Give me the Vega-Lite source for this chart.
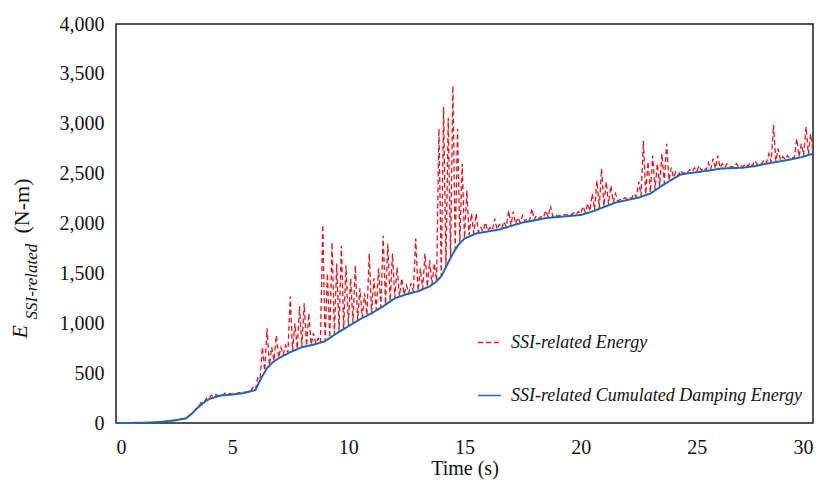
{
"$schema": "https://vega.github.io/schema/vega-lite/v6.json",
"width": 697, "height": 399,
"autosize": "none",
"padding": {"left": 116, "top": 24, "right": 13, "bottom": 63},
"background": "white",
"config": {
  "font": "Liberation Serif",
  "view": {"stroke": "#1a1a1a", "strokeWidth": 1.5},
  "axis": {"grid": false, "ticks": false, "domain": false, "labelFont": "Liberation Serif", "titleFont": "Liberation Serif", "labelColor": "#111", "titleColor": "#111", "labelFontSize": 20, "titleFontSize": 20, "titleFontWeight": "normal"}
},
"data": {"values": [
{"s":"r","t":0,"v":0},{"s":"r","t":0.5,"v":0},{"s":"r","t":1,"v":2},{"s":"r","t":1.5,"v":5},{"s":"r","t":2,"v":15},{"s":"r","t":2.5,"v":28},{"s":"r","t":3,"v":48},{"s":"r","t":3.3,"v":100},{"s":"r","t":3.5,"v":160},
{"s":"r","t":3.6,"v":180},{"s":"r","t":3.7,"v":220},{"s":"r","t":3.8,"v":215},{"s":"r","t":3.9,"v":250},{"s":"r","t":4.0,"v":245},{"s":"r","t":4.1,"v":280},{"s":"r","t":4.2,"v":262},{"s":"r","t":4.3,"v":285},{"s":"r","t":4.4,"v":274},{"s":"r","t":4.5,"v":292},{"s":"r","t":4.6,"v":280},{"s":"r","t":4.7,"v":300},{"s":"r","t":4.8,"v":285},{"s":"r","t":4.9,"v":296},
{"s":"r","t":5.0,"v":290},{"s":"r","t":5.1,"v":300},{"s":"r","t":5.2,"v":295},{"s":"r","t":5.3,"v":306},{"s":"r","t":5.4,"v":300},{"s":"r","t":5.5,"v":310},{"s":"r","t":5.6,"v":308},{"s":"r","t":5.7,"v":320},{"s":"r","t":5.8,"v":318},{"s":"r","t":5.9,"v":360},
{"s":"r","t":6.0,"v":335},{"s":"r","t":6.1,"v":450},{"s":"r","t":6.2,"v":435},{"s":"r","t":6.3,"v":760},{"s":"r","t":6.4,"v":525},{"s":"r","t":6.5,"v":950},{"s":"r","t":6.6,"v":580},{"s":"r","t":6.7,"v":760},{"s":"r","t":6.8,"v":625},{"s":"r","t":6.9,"v":880},
{"s":"r","t":7.0,"v":655},{"s":"r","t":7.1,"v":760},{"s":"r","t":7.2,"v":685},{"s":"r","t":7.3,"v":780},{"s":"r","t":7.4,"v":705},{"s":"r","t":7.5,"v":1270},{"s":"r","t":7.6,"v":725},{"s":"r","t":7.7,"v":1000},{"s":"r","t":7.8,"v":745},{"s":"r","t":7.9,"v":1170},
{"s":"r","t":8.0,"v":765},{"s":"r","t":8.1,"v":1200},{"s":"r","t":8.2,"v":775},{"s":"r","t":8.3,"v":1100},{"s":"r","t":8.4,"v":785},{"s":"r","t":8.5,"v":900},{"s":"r","t":8.6,"v":795},{"s":"r","t":8.7,"v":850},{"s":"r","t":8.8,"v":805},{"s":"r","t":8.9,"v":1990},
{"s":"r","t":9.0,"v":825},{"s":"r","t":9.1,"v":1500},{"s":"r","t":9.2,"v":855},{"s":"r","t":9.3,"v":1810},{"s":"r","t":9.4,"v":890},{"s":"r","t":9.5,"v":1600},{"s":"r","t":9.6,"v":920},{"s":"r","t":9.7,"v":1780},{"s":"r","t":9.8,"v":950},{"s":"r","t":9.9,"v":1580},
{"s":"r","t":10.0,"v":975},{"s":"r","t":10.1,"v":1450},{"s":"r","t":10.2,"v":1005},{"s":"r","t":10.3,"v":1580},{"s":"r","t":10.4,"v":1033},{"s":"r","t":10.5,"v":1350},{"s":"r","t":10.6,"v":1057},{"s":"r","t":10.7,"v":1300},{"s":"r","t":10.8,"v":1081},{"s":"r","t":10.9,"v":1700},
{"s":"r","t":11.0,"v":1105},{"s":"r","t":11.1,"v":1450},{"s":"r","t":11.2,"v":1135},{"s":"r","t":11.3,"v":1550},{"s":"r","t":11.4,"v":1163},{"s":"r","t":11.5,"v":1880},{"s":"r","t":11.6,"v":1190},{"s":"r","t":11.7,"v":1800},{"s":"r","t":11.8,"v":1225},{"s":"r","t":11.9,"v":1700},
{"s":"r","t":12.0,"v":1255},{"s":"r","t":12.1,"v":1560},{"s":"r","t":12.2,"v":1271},{"s":"r","t":12.3,"v":1450},{"s":"r","t":12.4,"v":1287},{"s":"r","t":12.5,"v":1380},{"s":"r","t":12.6,"v":1301},{"s":"r","t":12.7,"v":1400},{"s":"r","t":12.8,"v":1313},{"s":"r","t":12.9,"v":1850},
{"s":"r","t":13.0,"v":1325},{"s":"r","t":13.1,"v":1550},{"s":"r","t":13.2,"v":1345},{"s":"r","t":13.3,"v":1700},{"s":"r","t":13.4,"v":1365},{"s":"r","t":13.5,"v":1630},{"s":"r","t":13.6,"v":1390},{"s":"r","t":13.7,"v":1600},{"s":"r","t":13.8,"v":1425},{"s":"r","t":13.9,"v":2950},
{"s":"r","t":14.0,"v":1475},{"s":"r","t":14.1,"v":3170},{"s":"r","t":14.2,"v":1565},{"s":"r","t":14.3,"v":3060},{"s":"r","t":14.4,"v":1665},{"s":"r","t":14.5,"v":3380},{"s":"r","t":14.6,"v":1745},{"s":"r","t":14.7,"v":2950},{"s":"r","t":14.8,"v":1810},{"s":"r","t":14.9,"v":2600},
{"s":"r","t":15.0,"v":1855},{"s":"r","t":15.1,"v":2330},{"s":"r","t":15.2,"v":1883},{"s":"r","t":15.3,"v":2100},{"s":"r","t":15.4,"v":1900},{"s":"r","t":15.5,"v":2100},{"s":"r","t":15.6,"v":1910},{"s":"r","t":15.7,"v":1960},{"s":"r","t":15.8,"v":1919},{"s":"r","t":15.9,"v":2010},
{"s":"r","t":16.0,"v":1925},{"s":"r","t":16.1,"v":1960},{"s":"r","t":16.2,"v":1933},{"s":"r","t":16.3,"v":2050},{"s":"r","t":16.4,"v":1941},{"s":"r","t":16.5,"v":1990},{"s":"r","t":16.6,"v":1952},{"s":"r","t":16.7,"v":2020},{"s":"r","t":16.8,"v":1966},{"s":"r","t":16.9,"v":2130},
{"s":"r","t":17.0,"v":1980},{"s":"r","t":17.1,"v":2120},{"s":"r","t":17.2,"v":1994},{"s":"r","t":17.3,"v":2060},{"s":"r","t":17.4,"v":2008},{"s":"r","t":17.5,"v":2080},{"s":"r","t":17.6,"v":2020},{"s":"r","t":17.7,"v":2050},{"s":"r","t":17.8,"v":2028},{"s":"r","t":17.9,"v":2150},
{"s":"r","t":18.0,"v":2040},{"s":"r","t":18.1,"v":2080},{"s":"r","t":18.2,"v":2050},{"s":"r","t":18.3,"v":2070},{"s":"r","t":18.4,"v":2060},{"s":"r","t":18.5,"v":2130},{"s":"r","t":18.6,"v":2065},{"s":"r","t":18.7,"v":2180},{"s":"r","t":18.8,"v":2070},{"s":"r","t":18.9,"v":2090},
{"s":"r","t":19.0,"v":2075},{"s":"r","t":19.1,"v":2080},{"s":"r","t":19.2,"v":2079},{"s":"r","t":19.3,"v":2090},{"s":"r","t":19.4,"v":2083},{"s":"r","t":19.5,"v":2100},{"s":"r","t":19.6,"v":2087},{"s":"r","t":19.7,"v":2110},{"s":"r","t":19.8,"v":2091},{"s":"r","t":19.9,"v":2120},
{"s":"r","t":20.0,"v":2095},{"s":"r","t":20.1,"v":2170},{"s":"r","t":20.2,"v":2109},{"s":"r","t":20.3,"v":2200},{"s":"r","t":20.4,"v":2123},{"s":"r","t":20.5,"v":2300},{"s":"r","t":20.6,"v":2139},{"s":"r","t":20.7,"v":2430},{"s":"r","t":20.8,"v":2157},{"s":"r","t":20.9,"v":2550},
{"s":"r","t":21.0,"v":2175},{"s":"r","t":21.1,"v":2420},{"s":"r","t":21.2,"v":2193},{"s":"r","t":21.3,"v":2380},{"s":"r","t":21.4,"v":2211},{"s":"r","t":21.5,"v":2300},{"s":"r","t":21.6,"v":2225},{"s":"r","t":21.7,"v":2240},{"s":"r","t":21.8,"v":2235},{"s":"r","t":21.9,"v":2260},
{"s":"r","t":22.0,"v":2245},{"s":"r","t":22.1,"v":2260},{"s":"r","t":22.2,"v":2255},{"s":"r","t":22.3,"v":2300},{"s":"r","t":22.4,"v":2265},{"s":"r","t":22.5,"v":2420},{"s":"r","t":22.6,"v":2278},{"s":"r","t":22.7,"v":2830},{"s":"r","t":22.8,"v":2294},{"s":"r","t":22.9,"v":2620},
{"s":"r","t":23.0,"v":2310},{"s":"r","t":23.1,"v":2680},{"s":"r","t":23.2,"v":2342},{"s":"r","t":23.3,"v":2600},{"s":"r","t":23.4,"v":2374},{"s":"r","t":23.5,"v":2700},{"s":"r","t":23.6,"v":2404},{"s":"r","t":23.7,"v":2800},{"s":"r","t":23.8,"v":2432},{"s":"r","t":23.9,"v":2560},
{"s":"r","t":24.0,"v":2460},{"s":"r","t":24.1,"v":2520},{"s":"r","t":24.2,"v":2480},{"s":"r","t":24.3,"v":2530},{"s":"r","t":24.4,"v":2500},{"s":"r","t":24.5,"v":2520},{"s":"r","t":24.6,"v":2513},{"s":"r","t":24.7,"v":2540},{"s":"r","t":24.8,"v":2519},{"s":"r","t":24.9,"v":2560},
{"s":"r","t":25.0,"v":2525},{"s":"r","t":25.1,"v":2580},{"s":"r","t":25.2,"v":2531},{"s":"r","t":25.3,"v":2560},{"s":"r","t":25.4,"v":2537},{"s":"r","t":25.5,"v":2610},{"s":"r","t":25.6,"v":2544},{"s":"r","t":25.7,"v":2650},{"s":"r","t":25.8,"v":2552},{"s":"r","t":25.9,"v":2680},
{"s":"r","t":26.0,"v":2560},{"s":"r","t":26.1,"v":2600},{"s":"r","t":26.2,"v":2562},{"s":"r","t":26.3,"v":2600},{"s":"r","t":26.4,"v":2564},{"s":"r","t":26.5,"v":2570},{"s":"r","t":26.6,"v":2566},{"s":"r","t":26.7,"v":2600},{"s":"r","t":26.8,"v":2568},{"s":"r","t":26.9,"v":2580},
{"s":"r","t":27.0,"v":2570},{"s":"r","t":27.1,"v":2600},{"s":"r","t":27.2,"v":2575},{"s":"r","t":27.3,"v":2610},{"s":"r","t":27.4,"v":2581},{"s":"r","t":27.5,"v":2630},{"s":"r","t":27.6,"v":2590},{"s":"r","t":27.7,"v":2610},{"s":"r","t":27.8,"v":2600},{"s":"r","t":27.9,"v":2640},
{"s":"r","t":28.0,"v":2610},{"s":"r","t":28.1,"v":2700},{"s":"r","t":28.2,"v":2618},{"s":"r","t":28.3,"v":2990},{"s":"r","t":28.4,"v":2626},{"s":"r","t":28.5,"v":2750},{"s":"r","t":28.6,"v":2634},{"s":"r","t":28.7,"v":2670},{"s":"r","t":28.8,"v":2642},{"s":"r","t":28.9,"v":2680},
{"s":"r","t":29.0,"v":2650},{"s":"r","t":29.1,"v":2660},{"s":"r","t":29.2,"v":2660},{"s":"r","t":29.3,"v":2850},{"s":"r","t":29.4,"v":2670},{"s":"r","t":29.5,"v":2800},{"s":"r","t":29.6,"v":2685},{"s":"r","t":29.7,"v":2970},{"s":"r","t":29.8,"v":2695},{"s":"r","t":29.9,"v":2900},{"s":"r","t":30.0,"v":2710},
{"s":"b","t":0,"v":0},{"s":"b","t":0.5,"v":0},{"s":"b","t":1,"v":2},{"s":"b","t":1.5,"v":5},{"s":"b","t":2,"v":12},{"s":"b","t":2.5,"v":25},{"s":"b","t":3,"v":45},{"s":"b","t":3.25,"v":90},{"s":"b","t":3.5,"v":150},{"s":"b","t":3.75,"v":200},
{"s":"b","t":4,"v":240},{"s":"b","t":4.5,"v":275},{"s":"b","t":5,"v":285},{"s":"b","t":5.5,"v":300},{"s":"b","t":6,"v":330},{"s":"b","t":6.25,"v":450},{"s":"b","t":6.5,"v":550},{"s":"b","t":6.75,"v":610},{"s":"b","t":7,"v":650},{"s":"b","t":7.5,"v":710},
{"s":"b","t":8,"v":760},{"s":"b","t":8.5,"v":785},{"s":"b","t":9,"v":820},{"s":"b","t":9.5,"v":900},{"s":"b","t":10,"v":970},{"s":"b","t":10.5,"v":1040},{"s":"b","t":11,"v":1100},{"s":"b","t":11.5,"v":1170},{"s":"b","t":12,"v":1250},{"s":"b","t":12.5,"v":1290},
{"s":"b","t":13,"v":1320},{"s":"b","t":13.5,"v":1370},{"s":"b","t":13.75,"v":1410},{"s":"b","t":14,"v":1470},{"s":"b","t":14.25,"v":1585},{"s":"b","t":14.5,"v":1700},{"s":"b","t":14.75,"v":1790},{"s":"b","t":15,"v":1850},{"s":"b","t":15.5,"v":1900},{"s":"b","t":16,"v":1920},
{"s":"b","t":16.5,"v":1940},{"s":"b","t":17,"v":1975},{"s":"b","t":17.5,"v":2010},{"s":"b","t":18,"v":2030},{"s":"b","t":18.5,"v":2055},{"s":"b","t":19,"v":2065},{"s":"b","t":19.5,"v":2075},{"s":"b","t":20,"v":2085},{"s":"b","t":20.5,"v":2120},{"s":"b","t":21,"v":2165},
{"s":"b","t":21.5,"v":2210},{"s":"b","t":22,"v":2235},{"s":"b","t":22.5,"v":2260},{"s":"b","t":23,"v":2300},{"s":"b","t":23.5,"v":2380},{"s":"b","t":24,"v":2450},{"s":"b","t":24.3,"v":2490},{"s":"b","t":24.5,"v":2500},{"s":"b","t":25,"v":2515},{"s":"b","t":25.5,"v":2530},
{"s":"b","t":26,"v":2550},{"s":"b","t":26.5,"v":2555},{"s":"b","t":27,"v":2560},{"s":"b","t":27.5,"v":2575},{"s":"b","t":28,"v":2600},{"s":"b","t":28.5,"v":2620},{"s":"b","t":29,"v":2640},{"s":"b","t":29.5,"v":2665},{"s":"b","t":30,"v":2700}
]},
"encoding": {
  "x": {"field": "t", "type": "quantitative", "scale": {"domain": [0, 30], "nice": false}, "axis": {"values": [0,5,10,15,20,25,30], "labelFont": "Liberation Serif", "labelFontSize": 20, "labelPadding": 14, "title": "Time (s)", "titleFont": "Liberation Serif", "titleFontSize": 20, "titlePadding": 1}}
},
"layer": [
  {
    "layer": [
      {"transform": [{"filter": "datum.s == 'r'"}],
       "mark": {"type": "line", "strokeWidth": 1.3},
       "encoding": {
         "y": {"field": "v", "type": "quantitative", "scale": {"domain": [0, 4000], "nice": false},
               "axis": {"values": [0,500,1000,1500,2000,2500,3000,3500,4000], "labelExpr": "format(datum.value, ',.0f')", "labelFont": "Liberation Serif", "labelFontSize": 20, "labelPadding": 12,
                        "title": "E", "titleFont": "Liberation Serif", "titleFontStyle": "italic", "titleFontSize": 22, "titleAngle": 270, "titleAlign": "left", "titleBaseline": "alphabetic", "titleX": -90, "titleY": 314}},
         "color": {"field": "s", "type": "nominal", "scale": {"domain": ["r", "b"], "range": ["#e8141c", "#2266ad"]},
                   "legend": {"title": null, "orient": "none", "legendX": 361, "legendY": 306, "symbolType": "stroke", "symbolSize": 520, "symbolStrokeWidth": 1.6, "labelFont": "Liberation Serif", "labelFontStyle": "italic", "labelFontSize": 18, "labelColor": "#111", "labelOffset": 9, "rowPadding": 31, "padding": 0, "labelLimit": 400,
                              "labelExpr": "datum.value == 'r' ? 'SSI-related Energy' : 'SSI-related Cumulated Damping Energy'"}},
         "strokeDash": {"field": "s", "type": "nominal", "scale": {"domain": ["r", "b"], "range": [[5, 3], [1, 0]]}, "legend": null}
       }},
      {"transform": [{"filter": "datum.s == 'b'"}],
       "mark": {"type": "line", "strokeWidth": 2},
       "encoding": {
         "y": {"field": "v", "type": "quantitative"},
         "color": {"field": "s", "type": "nominal"},
         "strokeDash": {"field": "s", "type": "nominal"}
       }}
    ]
  },
  {"transform": [{"filter": "datum.s == 'b'"}],
   "mark": {"type": "line", "opacity": 0},
   "encoding": {"y": {"field": "v", "type": "quantitative", "scale": {"domain": [0, 4000], "nice": false},
     "axis": {"orient": "left", "labels": false, "title": "SSI-related", "titleFont": "Liberation Serif", "titleFontStyle": "italic", "titleFontSize": 17, "titleAngle": 270, "titleAlign": "left", "titleBaseline": "alphabetic", "titleX": -80, "titleY": 295}}}},
  {"transform": [{"filter": "datum.s == 'b'"}],
   "mark": {"type": "line", "opacity": 0},
   "encoding": {"y": {"field": "v", "type": "quantitative", "scale": {"domain": [0, 4000], "nice": false},
     "axis": {"orient": "left", "labels": false, "title": "(N-m)", "titleFont": "Liberation Serif", "titleFontSize": 22, "titleAngle": 270, "titleAlign": "left", "titleBaseline": "alphabetic", "titleX": -88, "titleY": 209}}}}
],
"resolve": {"scale": {"y": "independent"}}
}
